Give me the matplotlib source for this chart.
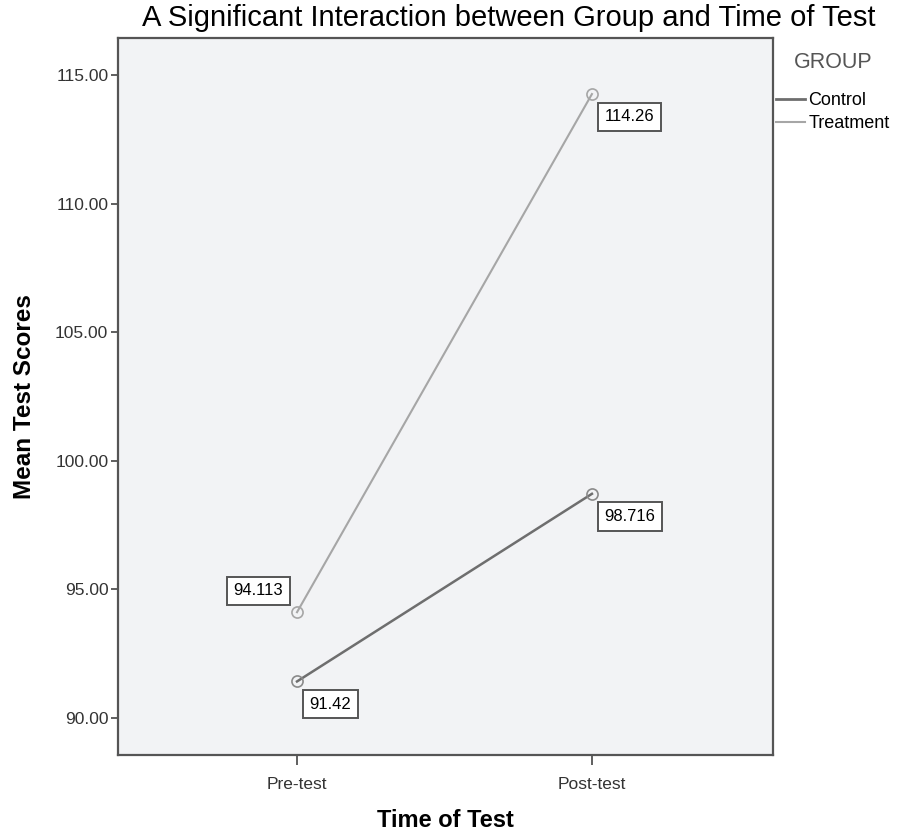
import matplotlib
matplotlib.use("Agg")
import matplotlib.pyplot as plt
from matplotlib.lines import Line2D

plt.rcParams['font.family'] = ['Liberation Sans', 'DejaVu Sans']

# data
times = ["Pre-test", "Post-test"]
control = [91.42, 98.716]
treatment = [94.113, 114.26]
control_labels = ["91.42", "98.716"]
treatment_labels = ["94.113", "114.26"]
yticks = [90, 95, 100, 105, 110, 115]

c_ctrl = "#6e6e6e"
c_treat = "#a6a6a6"

fig = plt.figure(figsize=(8.99, 8.35), dpi=100)
ax = fig.add_axes([118 / 899, 80 / 835, 655 / 899, 717 / 835])
ax.set_facecolor("#f2f3f5")

x = list(range(len(times)))
ax.plot(x, control, color=c_ctrl, lw=1.8, marker="o", ms=8, mfc="none",
        mec="#8a8a8a", mew=1.2, zorder=3)
ax.plot(x, treatment, color=c_treat, lw=1.5, marker="o", ms=8, mfc="none",
        mec=c_treat, mew=1.2, zorder=3)

box = dict(boxstyle="square,pad=0.4", fc="white", ec="#555555", lw=1.4)
# value labels
fs = 12
ax.annotate(control_labels[0], (x[0], control[0]), xytext=(9, -11), textcoords="offset points",
            ha="left", va="top", fontsize=fs, bbox=box, zorder=4)
ax.annotate(treatment_labels[0], (x[0], treatment[0]), xytext=(-10, 10), textcoords="offset points",
            ha="right", va="bottom", fontsize=fs, bbox=box, zorder=4)
ax.annotate(control_labels[1], (x[1], control[1]), xytext=(9, -11), textcoords="offset points",
            ha="left", va="top", fontsize=fs, bbox=box, zorder=4)
ax.annotate(treatment_labels[1], (x[1], treatment[1]), xytext=(9, -11), textcoords="offset points",
            ha="left", va="top", fontsize=fs, bbox=box, zorder=4)

ax.set_xlim(-0.607, 1.614)
ax.set_ylim(88.56, 116.44)
ax.set_xticks(x)
ax.set_xticklabels(times, fontsize=12.5, color="#333333")
ax.set_yticks(yticks)
ax.set_yticklabels([f"{v:.2f}" for v in yticks], fontsize=12.5, color="#333333")
ax.tick_params(axis="x", length=7, width=1.2, color="#444444", pad=9)
ax.tick_params(axis="y", length=5, width=1.2, color="#444444", pad=2)
for s in ax.spines.values():
    s.set_color("#555555")
    s.set_linewidth(1.6)

ax.set_xlabel("Time of Test", fontsize=17, fontweight="bold", labelpad=12)
ax.set_ylabel("Mean Test Scores", fontsize=17.5, fontweight="bold", labelpad=14)

fig.text(509 / 899, 1 - 18 / 835, "A Significant Interaction between Group and Time of Test",
         ha="center", va="center", fontsize=21)

handles = [Line2D([], [], color=c_ctrl, lw=2.0), Line2D([], [], color=c_treat, lw=1.5)]
leg = ax.legend(handles, ["Control", "Treatment"], title="GROUP", frameon=False, loc="upper left",
                bbox_to_anchor=(776 / 899, 1 - 52 / 835), bbox_transform=fig.transFigure,
                handlelength=1.6, handletextpad=0.2, borderpad=0, borderaxespad=0,
                labelspacing=0.3, fontsize=13, title_fontsize=15.5)
leg.get_title().set_color("#555555")
leg._legend_box.sep = 14

fig.savefig("out.png", dpi=100)
